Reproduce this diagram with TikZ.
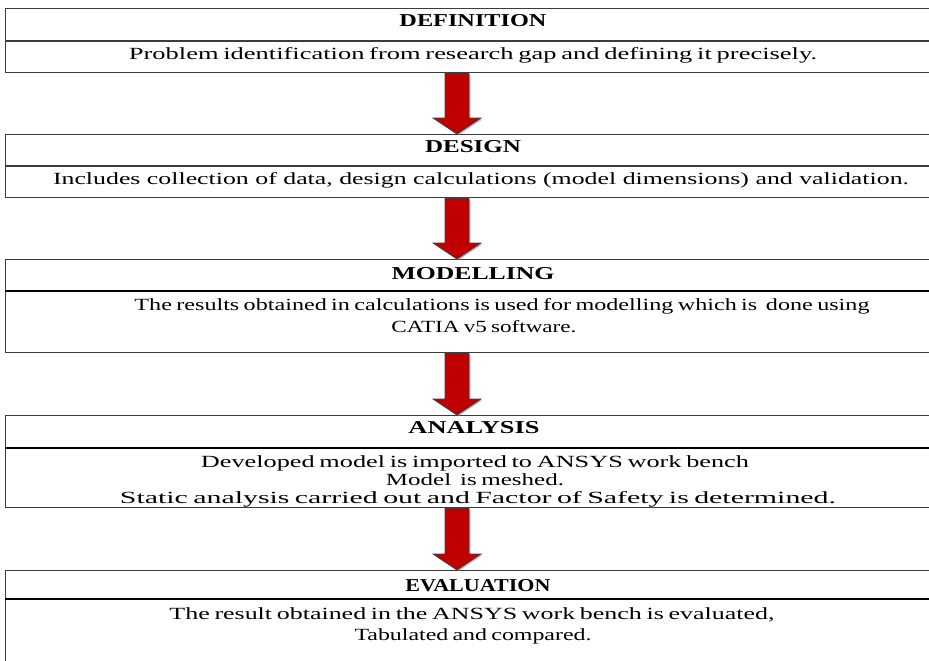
\documentclass[tikz,border=0pt]{standalone}
\usepackage{fontspec}
\setmainfont{Liberation Serif}
\usepackage{graphicx}
\usetikzlibrary{calc,shadows}
\newdimen\pxu \pxu=0.75pt
\newcommand\fitline[2]{\resizebox{#1\pxu}{\height}{#2}}
\newcommand\tightsp{\spaceskip=0.18em\relax}
\definecolor{arrowred}{RGB}{192,0,0}
\definecolor{edgegray}{RGB}{60,60,60}
\newcommand\blockarr[2]{%
  \path[blockarrow] let \p1=(ax |- #1.south), \p2=(ax |- #2.north) in
    (\x1-9pt,\y1) -- (\x1-9pt,\y2+12pt) -- (\x1-18pt,\y2+12pt) -- (\x2,\y2)
    -- (\x1+18pt,\y2+12pt) -- (\x1+9pt,\y2+12pt) -- (\x1+9pt,\y1) -- cycle;}
\begin{document}
\begin{tikzpicture}[x=0.75pt,y=-0.75pt,
  stagebox/.style={draw=edgegray, line width=1.1pt, anchor=north west, minimum width=705pt, inner sep=0pt},
  rule/.style={line width=1.1pt, draw=edgegray},
  heavyrule/.style={line width=1.9pt, draw=black},
  head/.style={font=\fontsize{13.6}{15}\selectfont\bfseries, inner sep=0pt, anchor=base},
  body/.style={font=\fontsize{12.8}{14}\selectfont\tightsp, inner sep=0pt, anchor=base},
  plainbody/.style={font=\fontsize{12.8}{14}\selectfont, inner sep=0pt, anchor=base},
  blockarrow/.style={fill=arrowred, draw=black!75, line width=0.6pt, drop shadow={shadow xshift=1.2pt, shadow yshift=-1pt, opacity=0.45}}
]
\useasboundingbox (0,0) rectangle (929,661);
\clip (0,0) rectangle (929,661);
\fill[white] (0,0) rectangle (929,661);
\coordinate (ax) at (457,0);
% boxes
\node[stagebox, minimum height=48pt] (b1) at (5,8) {};
\node[stagebox, minimum height=47.25pt] (b2) at (5,134) {};
\node[stagebox, minimum height=69.75pt] (b3) at (5,259) {};
\node[stagebox, minimum height=69pt] (b4) at (5,415) {};
\node[stagebox, minimum height=82.5pt] (b5) at (5,570) {};
% header dividers
\coordinate (h1) at (0,41);
\coordinate (h2) at (0,166);
\coordinate (h3) at (0,291);
\coordinate (h4) at (0,448);
\coordinate (h5) at (0,599);
\draw[rule] (b1.west |- h1) -- (b1.east |- h1);
\draw[rule] (b2.west |- h2) -- (b2.east |- h2);
\draw[heavyrule] (b3.west |- h3) -- (b3.east |- h3);
\draw[heavyrule] (b4.west |- h4) -- (b4.east |- h4);
\draw[heavyrule] (b5.west |- h5) -- (b5.east |- h5);
% texts
\node[head] (t1) at (473,26) {\fitline{147}{DEFINITION}};
\node[body] (t1a) at (473,59) {\fitline{688}{Problem identification from research gap and defining it precisely.}};
\node[head] (t2) at (473,152) {\fitline{96}{DESIGN}};
\node[plainbody] (t2a) at (481,184) {\fitline{856}{Includes collection of data, design calculations (model dimensions) and validation.}};
\node[head] (t3) at (473,279) {\fitline{163}{MODELLING}};
\node[body] (t3a) at (502,310) {\fitline{735}{The results obtained in calculations is used for modelling which is \ done using}};
\node[body] (t3b) at (484,332) {\fitline{185}{CATIA v5 software.}};
\node[head] (t4) at (474,433) {\fitline{131}{ANALYSIS}};
\node[body] (t4a) at (475,467) {\fitline{548}{Developed model is imported to ANSYS work bench}};
\node[body] (t4b) at (475,485) {\fitline{178}{Model \ is meshed.}};
\node[body] (t4c) at (478,503) {\fitline{716}{Static analysis carried out and Factor of Safety is determined.}};
\node[head] (t5) at (478,591) {\fitline{145}{EVALUATION}};
\node[body] (t5a) at (472,619) {\fitline{605}{The result obtained in the ANSYS work bench is evaluated,}};
\node[body] (t5b) at (473,640) {\fitline{237}{Tabulated and compared.}};
% arrows
\blockarr{b1}{b2}
\blockarr{b2}{b3}
\blockarr{b3}{b4}
\blockarr{b4}{b5}
\end{tikzpicture}
\end{document}
